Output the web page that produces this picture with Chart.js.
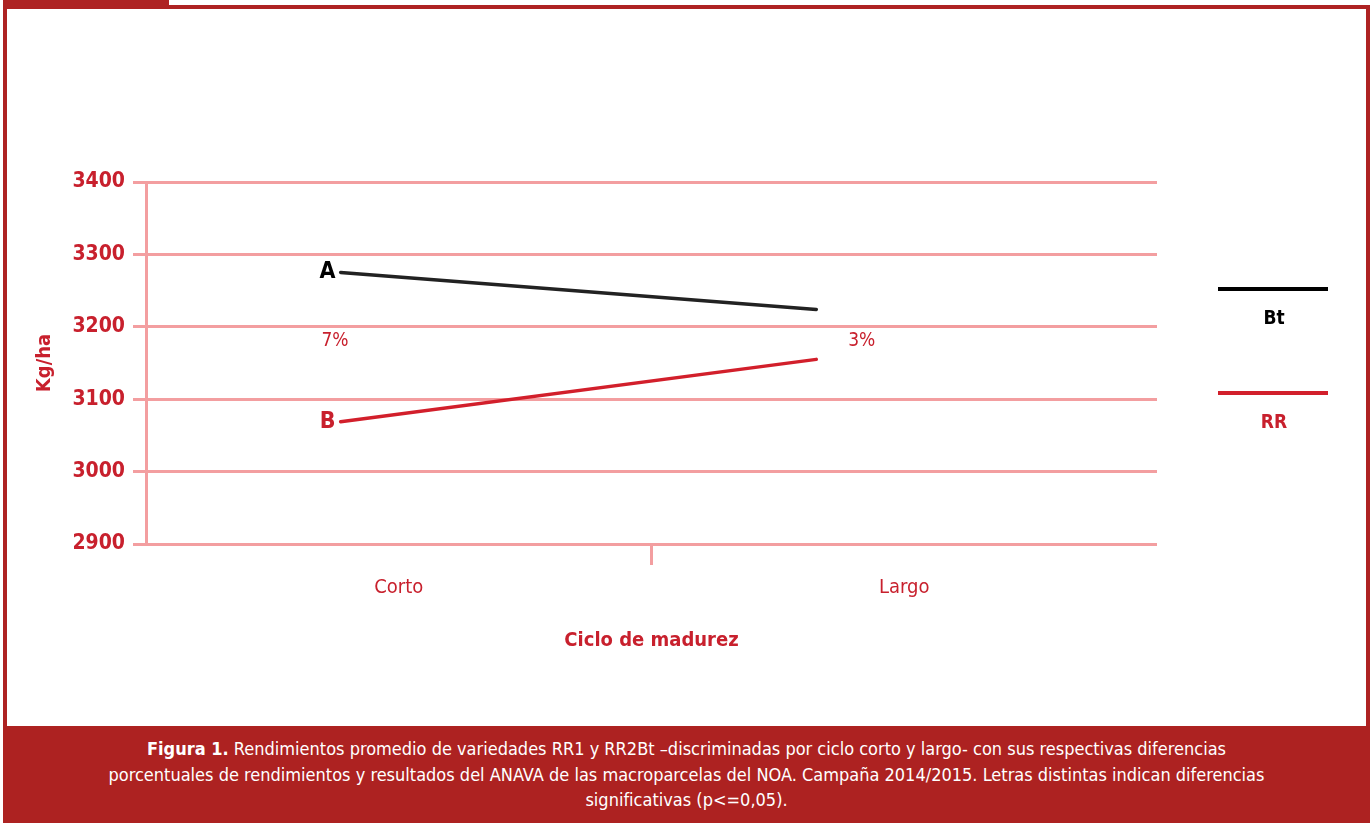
<!DOCTYPE html>
<html lang="es">
<head>
<meta charset="utf-8">
<title>Rendimientos promedio por ciclo de madurez</title>
<script src="https://cdn.jsdelivr.net/npm/chart.js@4.4.1/dist/chart.umd.min.js"></script>
<style>
  html, body { margin: 0; padding: 0; background: #ffffff; }
  body { width: 1370px; height: 823px; position: relative; overflow: hidden; }
  #wrap { position: absolute; left: 0; top: 0; width: 1370px; height: 823px; }
  .frame { position: absolute; left: 3px; top: 5px; width: 1359px; height: 760px;
           border-left: 4px solid #ae2222; border-top: 4px solid #ae2222; border-right: 4px solid #ae2222;
           pointer-events: none; }
  .tab { position: absolute; left: 3px; top: 0; width: 166px; height: 7px; background: #ae2222; }
  .caption { position: absolute; left: 3px; top: 726px; width: 1367px; height: 97px;
             background: #ad2221; color: #ffffff; text-align: center;
             font-family: "Liberation Sans Narrow", "DejaVu Sans Condensed", sans-serif;
             font-size: 18px; line-height: 25.5px; padding-top: 10px; box-sizing: border-box; }
  .caption b { font-weight: bold; }
</style>
</head>
<body>
<div id="wrap"><canvas id="chart" width="1370" height="823"></canvas></div>
<div class="frame"></div>
<div class="tab"></div>
<div class="caption">
  <b>Figura 1.</b> Rendimientos promedio de variedades RR1 y RR2Bt –discriminadas por ciclo corto y largo- con sus respectivas diferencias<br>
  porcentuales de rendimientos y resultados del ANAVA de las macroparcelas del NOA. Campaña 2014/2015. Letras distintas indican diferencias<br>
  significativas (p&lt;=0,05).
</div>
<script>
// Categories and yields (kg/ha)
const categories = ['Corto', 'Largo'];
const seriesNames = ['Bt', 'RR'];
const btValues = [3275, 3224];
const rrValues = [3069, 3155];
// horizontal placement of each series' points on a 0–2 scale spanning both categories
const pointPos = [0.385, 1.326];
// significance letters at the first point of each series
const letters = ['A', 'B'];
// percentage differences between varieties for each cycle
const diffLabels = ['7%', '3%'];
const diffPos = [0.374, 1.416];
const diffLevel = 3180;
const yMin = 2900, yMax = 3400, yStep = 100;
const axisTitles = { x: 'Ciclo de madurez', y: 'Kg/ha' };

const FONT = '"Liberation Sans Narrow", "DejaVu Sans Condensed", sans-serif';
const RED = '#c8202d';
const PINK = '#f39ea0';
const BLACK = '#222222';

function toPoints(values) {
  return values.map((v, i) => ({ x: pointPos[i], y: v }));
}

// letters, percentage notes and the side legend
const notesPlugin = {
  id: 'notes',
  afterDatasetsDraw(chart) {
    const ctx = chart.ctx;
    const xl = chart.scales.xl, y = chart.scales.y;
    ctx.save();
    ctx.textBaseline = 'middle';
    // significance letters
    chart.data.datasets.forEach((ds, i) => {
      const p = chart.getDatasetMeta(i).data[0];
      ctx.font = 'bold 23px ' + FONT;
      ctx.fillStyle = i === 0 ? '#000000' : RED;
      ctx.textAlign = 'right';
      ctx.fillText(letters[i], p.x - 5, p.y);
    });
    // percentage differences
    ctx.font = '19px ' + FONT;
    ctx.fillStyle = RED;
    ctx.textAlign = 'center';
    diffLabels.forEach((t, i) => {
      ctx.fillText(t, xl.getPixelForValue(diffPos[i]), y.getPixelForValue(diffLevel));
    });
    // legend
    const legendX0 = 1218, legendX1 = 1328, legendY = [289, 393], legendGap = 30;
    chart.data.datasets.forEach((ds, i) => {
      ctx.strokeStyle = i === 0 ? '#000000' : ds.borderColor;
      ctx.lineWidth = 4;
      ctx.beginPath();
      ctx.moveTo(legendX0, legendY[i]);
      ctx.lineTo(legendX1, legendY[i]);
      ctx.stroke();
      ctx.font = 'bold 19px ' + FONT;
      ctx.fillStyle = i === 0 ? '#000000' : RED;
      ctx.textAlign = 'center';
      ctx.fillText(ds.label, (legendX0 + legendX1) / 2 + 1, legendY[i] + legendGap);
    });
    ctx.restore();
  }
};

new Chart(document.getElementById('chart'), {
  type: 'line',
  data: {
    datasets: [
      { label: seriesNames[0], data: toPoints(btValues), borderColor: BLACK, borderWidth: 3.5,
        pointRadius: 0, borderCapStyle: 'round', xAxisID: 'xl', yAxisID: 'y' },
      { label: seriesNames[1], data: toPoints(rrValues), borderColor: '#d21f2b', borderWidth: 3.5,
        pointRadius: 0, borderCapStyle: 'round', xAxisID: 'xl', yAxisID: 'y' }
    ]
  },
  options: {
    responsive: false,
    animation: false,
    events: [],
    layout: { padding: { top: 182, right: 213, left: 0, bottom: 0 } },
    plugins: { legend: { display: false }, tooltip: { enabled: false } },
    scales: {
      x: {
        type: 'category',
        labels: categories,
        position: 'bottom',
        offset: true,
        afterFit(s) { s.height = 823 - 544; },
        border: { display: false },
        grid: {
          display: true, drawOnChartArea: false, offset: true, tickLength: 21, lineWidth: 3,
          color: (c) => (c.index === 1 ? PINK : 'rgba(0,0,0,0)')
        },
        ticks: { color: RED, font: { family: FONT, size: 20 }, padding: 11, maxRotation: 0 },
        title: { display: true, text: axisTitles.x, color: RED,
                 font: { family: FONT, size: 20, weight: 'bold' }, padding: { top: 0, bottom: 170 } }
      },
      xl: { type: 'linear', min: 0, max: 2, display: false, position: 'bottom' },
      y: {
        min: yMin, max: yMax,
        afterFit(s) { s.width = 146; },
        border: { display: true, color: PINK, width: 3 },
        grid: { color: PINK, lineWidth: 3, tickLength: 13 },
        ticks: { stepSize: yStep, color: RED, padding: 8,
                 font: { family: FONT, size: 21, weight: 'bold' },
                 callback: (v) => String(v) },
        title: { display: true, text: axisTitles.y, color: RED,
                 font: { family: FONT, size: 20, weight: 'bold' }, padding: { top: 33, bottom: 0 } }
      }
    }
  },
  plugins: [notesPlugin]
});
</script>
</body>
</html>
